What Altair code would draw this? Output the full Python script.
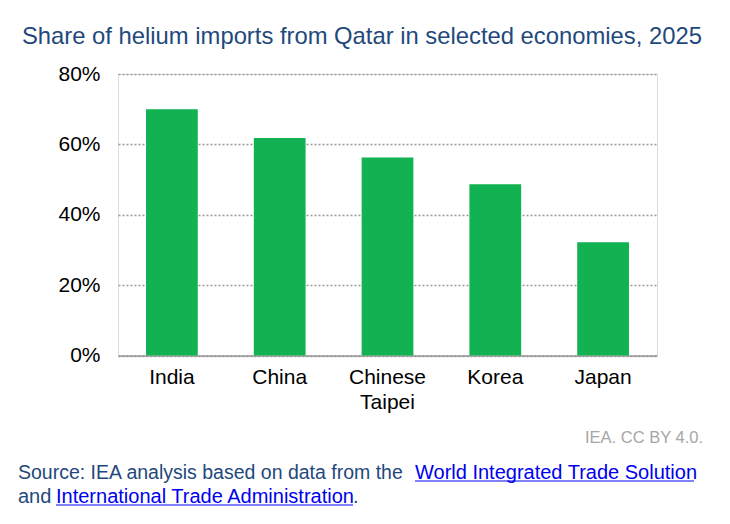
import altair as alt
import pandas as pd

economies = ["India", "China", "Chinese Taipei", "Korea", "Japan"]
shares = [0.700, 0.618, 0.563, 0.487, 0.322]

title_text = "Share of helium imports from Qatar in selected economies, 2025"
credit_text = "IEA. CC BY 4.0."
src1_a = "Source: IEA analysis based on data from the "
src1_link = "World Integrated Trade Solution"
src2_a = "and "
src2_link = "International Trade Administration"
src2_b = "."

df = pd.DataFrame({"economy": economies, "share": shares})

FONT = "Liberation Sans"
DARK = "#1F497D"
LINK = "#0000EE"

bars = alt.Chart(df).mark_bar(color="#12B152").encode(
    x=alt.X("economy:N", sort=economies, title=None,
            scale=alt.Scale(paddingInner=0.52, paddingOuter=0.26),
            axis=alt.Axis(labelAngle=0, labelFont=FONT, labelFontSize=21, labelColor="#000",
                          labelPadding=11, ticks=False, domainColor="#999", domainWidth=1.5,
                          labelLineHeight=25,
                          labelExpr="datum.label == 'Chinese Taipei' ? ['Chinese', 'Taipei'] : datum.label")),
    y=alt.Y("share:Q", title=None,
            scale=alt.Scale(domain=[0, 0.8]),
            axis=alt.Axis(format=".0%", values=[0, 0.2, 0.4, 0.6, 0.8], labelFont=FONT,
                          labelFontSize=21, labelColor="#000", labelPadding=18, ticks=False,
                          domain=False, gridColor="#999", gridDash=[2, 2], gridWidth=1.5)),
)

def txt(text, x, y, color, size, align="left", font=FONT):
    return alt.Chart(pd.DataFrame({"t": [text]})).mark_text(
        align=align, baseline="middle", font=font, fontSize=size, color=color
    ).encode(text="t:N", x=alt.value(x), y=alt.value(y))

title = txt(title_text, -96, -37, DARK, 23.8)
credit = txt(credit_text, 585, 364, "#A6A6A6", 16.5, align="right")
s1a = txt(src1_a, -100, 399, DARK, 19.5)
s1l = txt(src1_link, 297, 399, LINK, 20)
s2a = txt(src2_a, -100, 422.5, DARK, 20)
s2l = txt(src2_link, -62, 422.5, LINK, 20)
s2b = txt(src2_b, 235, 422.5, DARK, 20)

u1 = alt.Chart(pd.DataFrame({"a": [0]})).mark_rule(color=LINK, strokeWidth=1).encode(
    x=alt.value(297), x2=alt.value(576), y=alt.value(407))
u2 = alt.Chart(pd.DataFrame({"a": [0]})).mark_rule(color=LINK, strokeWidth=1).encode(
    x=alt.value(-62), x2=alt.value(235), y=alt.value(431))

chart = alt.layer(bars, title, credit, s1a, s1l, s2a, s2l, s2b, u1, u2).properties(
    width=539, height=281.5,
    autosize=alt.AutoSizeParams(type="none"),
    padding={"left": 110, "top": 66, "right": 65, "bottom": 160},
).configure_view(stroke=None).configure(background="white")

chart.save("out.html", embed_options={"renderer": "svg", "actions": False})
